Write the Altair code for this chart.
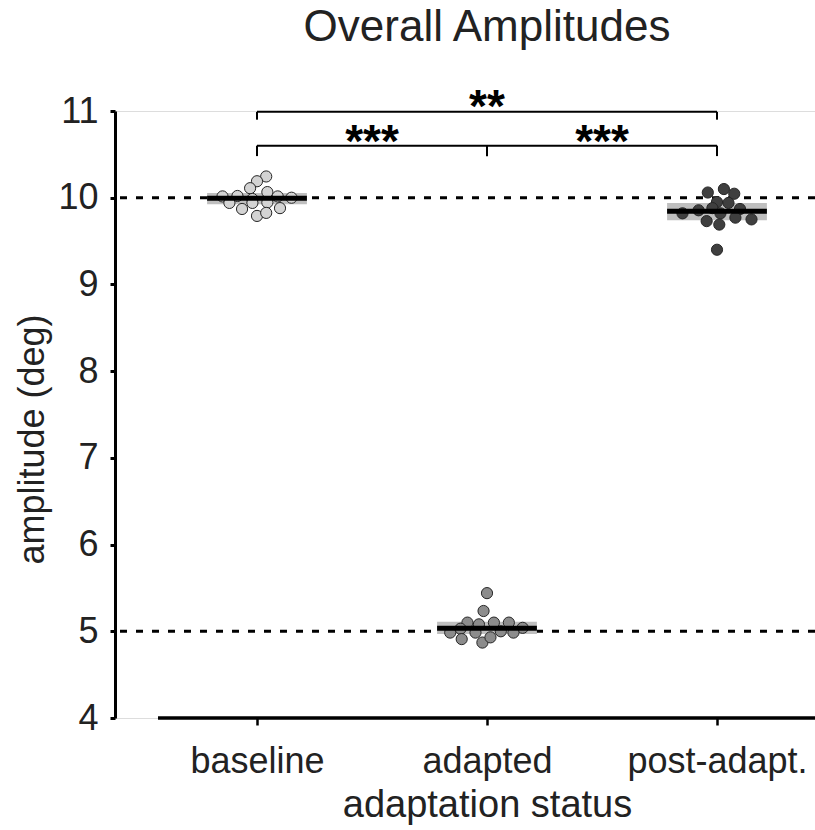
import altair as alt
import pandas as pd

FONT = "Liberation Sans"

# ---- data ----
conditions = ["baseline", "adapted", "post-adapt."]

baseline_vals = [10.245, 10.19, 10.11, 10.065, 10.015, 10.02, 9.985, 10.015,
                 10.0, 9.94, 9.87, 9.945, 9.88, 9.79, 9.825, 9.94]
baseline_jit = [0.04, 0.0, -0.03, 0.045, -0.15, -0.085, -0.02, 0.09,
                0.15, -0.12, -0.065, 0.045, 0.1, 0.0, 0.04, -0.02]

adapted_vals = [5.44, 5.234, 5.10, 5.08, 5.10, 5.10, 5.04, 4.985,
                5.03, 4.985, 5.0, 4.985, 4.91, 4.87, 4.93]
adapted_jit = [0.0, -0.015, -0.085, -0.035, 0.03, 0.095, 0.155, -0.16,
               -0.115, -0.05, 0.06, 0.115, -0.11, -0.02, 0.015]

post_vals = [10.06, 10.10, 10.046, 9.95, 9.94, 9.88, 9.87, 9.82,
             9.855, 9.82, 9.73, 9.77, 9.75, 9.69, 9.40]
post_jit = [-0.04, 0.03, 0.075, 0.0, 0.05, -0.02, 0.1, -0.15,
            -0.08, 0.015, -0.045, 0.08, 0.15, 0.01, 0.0]

mean_vals = [9.995, 5.035, 9.845]
band_low = [9.925, 4.97, 9.74]
band_high = [10.055, 5.11, 9.94]

ref_levels = [10, 5]

# significance brackets: (from, to, height, tick bottom, label)
brk_from = [1, 1, 2]
brk_to = [3, 2, 3]
brk_y = [10.99, 10.6, 10.6]
brk_tick = [10.9, 10.48, 10.48]
brk_label = ["**", "***", "***"]
brk_label_y = [10.877, 10.473, 10.473]

fills = ["#d3d3d3", "#8c8c8c", "#3f3f3f"]
HALF = 0.217  # half width of mean bar in category units

# ---- tables ----
rows = []
for i, (vals, jit) in enumerate([(baseline_vals, baseline_jit),
                                 (adapted_vals, adapted_jit),
                                 (post_vals, post_jit)]):
    for v, j in zip(vals, jit):
        rows.append({"x": i + 1 + j, "y": v, "cond": conditions[i]})
pts = pd.DataFrame(rows)

summ = pd.DataFrame({
    "cond": conditions,
    "x": [i + 1 - HALF for i in range(3)],
    "x2": [i + 1 + HALF for i in range(3)],
    "mean": mean_vals, "lo": band_low, "hi": band_high,
})

refs = pd.DataFrame({"y": ref_levels})

hbr = pd.DataFrame({"x": brk_from, "x2": brk_to, "y": brk_y})
ticks_rows = []
for a, b, y, t in zip(brk_from, brk_to, brk_y, brk_tick):
    for xx in (a, b):
        ticks_rows.append({"x": xx, "y": y, "y2": t})
ticks_rows.append({"x": 2, "y": brk_y[1], "y2": brk_tick[1]})
vbr = pd.DataFrame(ticks_rows)
lab = pd.DataFrame({"x": [(a + b) / 2 for a, b in zip(brk_from, brk_to)],
                    "y": brk_label_y, "t": brk_label})

xaxis_line = pd.DataFrame({"x": [0.5696], "x2": [3.4261], "y": [4]})

# ---- scales / axes ----
xs = alt.Scale(domain=[0.3826, 3.4261], nice=False, zero=False)
ys = alt.Scale(domain=[4, 11], nice=False, zero=False)

label_expr = " : ".join(
    [f"datum.value == {i + 1} ? '{c}'" for i, c in enumerate(conditions[:-1])]
) + f" : '{conditions[-1]}'"

xaxis = alt.Axis(values=[1, 2, 3], labelExpr=label_expr, domain=False, grid=False,
                 tickSize=7, tickWidth=2.5, tickColor="black",
                 labelFont=FONT, labelFontSize=36, labelColor="#222222",
                 labelBaseline="alphabetic", labelPadding=47, labelFlush=False,
                 labelLimit=0, labelOverlap=False,
                 title="adaptation status", titleFont=FONT, titleFontSize=38,
                 titleFontWeight="normal", titleColor="#222222",
                 titleX=372, titleY=98, titleBaseline="alphabetic", titleAlign="center")
yaxis = alt.Axis(values=list(range(4, 12)), domain=True, domainColor="black",
                 domainWidth=3, grid=False, tickSize=5, tickWidth=3, tickColor="black",
                 labelFont=FONT, labelFontSize=36, labelColor="#222222", labelPadding=12,
                 labelOverlap=False,
                 title="amplitude (deg)", titleFont=FONT, titleFontSize=36,
                 titleFontWeight="normal", titleColor="#222222", titleAngle=270,
                 titleX=-72, titleY=328, titleBaseline="alphabetic", titleAlign="center")

X = lambda f="x": alt.X(f"{f}:Q", scale=xs, axis=xaxis)
Y = lambda f="y": alt.Y(f"{f}:Q", scale=ys, axis=yaxis)

dashed = alt.Chart(refs).mark_rule(color="black", strokeWidth=3, strokeDash=[7, 9]).encode(
    y=Y("y"))

band = alt.Chart(summ).mark_rect(color="#bfbfbf").encode(
    x=X("x"), x2="x2:Q", y=Y("lo"), y2="hi:Q")

points = alt.Chart(pts).mark_circle(size=125, stroke="#262626", strokeWidth=1,
                                    opacity=1).encode(
    x=X("x"), y=Y("y"),
    color=alt.Color("cond:N", scale=alt.Scale(domain=conditions, range=fills), legend=None))

means = alt.Chart(summ).mark_rule(color="black", strokeWidth=5).encode(
    x=X("x"), x2="x2:Q", y=Y("mean"))

hlines = alt.Chart(hbr).mark_rule(color="black", strokeWidth=2).encode(
    x=X("x"), x2="x2:Q", y=Y("y"))
vlines = alt.Chart(vbr).mark_rule(color="black", strokeWidth=2).encode(
    x=X("x"), y=Y("y"), y2="y2:Q")
stars = alt.Chart(lab).mark_text(font=FONT, fontSize=46, fontWeight="bold",
                                 baseline="alphabetic", align="center",
                                 color="black").encode(
    x=X("x"), y=Y("y"), text="t:N")

xline = alt.Chart(xaxis_line).mark_rule(color="black", strokeWidth=3.5).encode(
    x=X("x"), x2="x2:Q", y=Y("y"))

chart = alt.layer(dashed, band, points, means, hlines, vlines, stars, xline).properties(
    width=700, height=607,
    padding={"left": 115, "top": 111, "right": 0, "bottom": 112},
    autosize=alt.AutoSizeParams(type="none"),
    title=alt.TitleParams("Overall Amplitudes", font=FONT, fontSize=44,
                          fontWeight="normal", color="#222222", anchor="middle",
                          frame="group", baseline="alphabetic", offset=0, dx=22),
).configure_view(stroke=None).configure(background="white")

chart.save("out.html", embed_options={"renderer": "svg", "actions": False})
